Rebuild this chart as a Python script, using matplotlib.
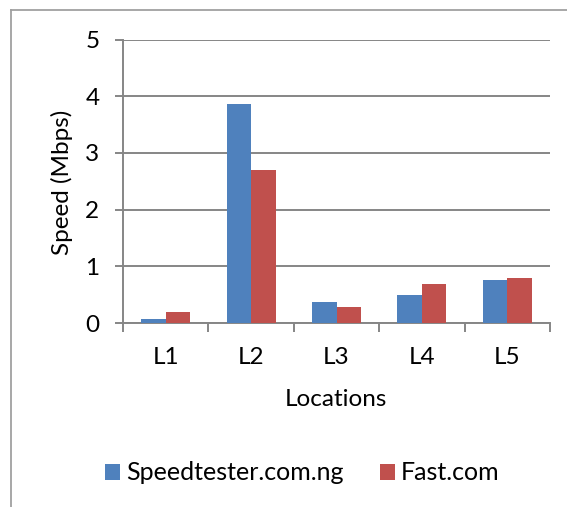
import matplotlib
matplotlib.use("Agg")
import matplotlib.pyplot as plt
import numpy as np
from matplotlib.lines import Line2D
from matplotlib.patches import Patch

categories = ["L1", "L2", "L3", "L4", "L5"]
speedtester = [0.07, 3.87, 0.37, 0.49, 0.76]
fastcom = [0.19, 2.69, 0.29, 0.69, 0.79]
series_names = ["Speedtester.com.ng", "Fast.com"]
yticks = [0, 1, 2, 3, 4, 5]

plt.rcParams['font.family'] = ['Lato', 'DejaVu Sans']
W, H = 567, 507
FS = 17.5
LFS = 18
fig = plt.figure(figsize=(W/100, H/100), dpi=100)
ax = fig.add_axes([123/W, 1-323/H, (550-123)/W, (323-39.5)/H])

blue = "#4F81BD"
red = "#C0504D"
grid = "#868686"
x = np.arange(len(categories))
bw = 0.287
ax.bar(x - bw/2, speedtester, bw, color=blue, zorder=3, label=series_names[0])
ax.bar(x + bw/2, fastcom, bw, color=red, zorder=3, label=series_names[1])

ax.set_xlim(-0.5, len(categories)-0.5)
ax.set_ylim(0, 5)
ax.set_yticks(yticks)
ax.set_yticklabels([str(v) for v in yticks])
ax.yaxis.grid(True, color=grid, linewidth=1.4, zorder=0)
ax.set_axisbelow(True)

ax.set_xticks(np.arange(len(categories)+1) - 0.5)
ax.set_xticklabels([])
ax.set_xticks(x, minor=True)
ax.set_xticklabels(categories, minor=True)
ax.tick_params(axis='x', which='major', length=6.5, width=1.4, color=grid, direction='out')
ax.tick_params(axis='x', which='minor', length=0, pad=17, labelsize=FS)
ax.tick_params(axis='y', length=6, width=1.4, color=grid, pad=11, labelsize=FS)

for s in ['top', 'right']:
    ax.spines[s].set_visible(False)
for s in ['left', 'bottom']:
    ax.spines[s].set_color(grid)
    ax.spines[s].set_linewidth(1.4)

fig.text(61.5/W, 1-182/H, "Speed (Mbps)", rotation=90, ha='center', va='center', fontsize=FS)
fig.text(336/W, 1-399/H, "Locations", ha='center', va='center', fontsize=FS)

# outer frame
fig.add_artist(Line2D([10.5/W, 10.5/W], [0, 1-10/H], color="#A0A0A0", linewidth=1.3))
fig.add_artist(Line2D([10.5/W, 1], [1-10/H, 1-10/H], color="#A0A0A0", linewidth=1.3))

fs_px = LFS * 100 / 72
handles = [Patch(facecolor=blue), Patch(facecolor=red)]
leg = fig.legend(handles, series_names, loc='center left', bbox_to_anchor=(105/W, 1-473/H),
                 ncol=2, frameon=False, fontsize=LFS, handlelength=15/fs_px, handleheight=15/fs_px,
                 handletextpad=6/fs_px, columnspacing=36/fs_px, borderpad=0, borderaxespad=0)

fig.savefig("out.png", dpi=100)
